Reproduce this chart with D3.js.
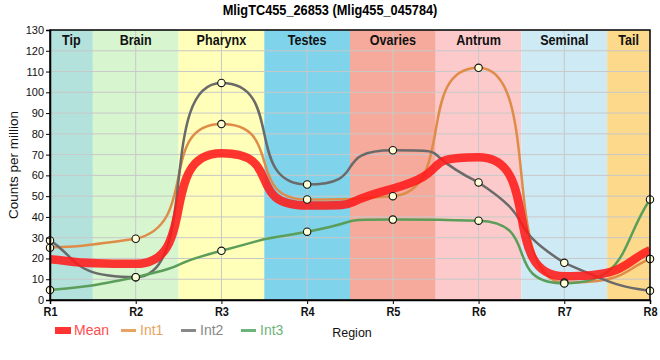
<!DOCTYPE html>
<html><head><meta charset="utf-8">
<script src="https://cdn.jsdelivr.net/npm/d3@7"></script>
<style>
body{margin:0;background:#fff;}
text{font-family:"Liberation Sans",Arial,sans-serif;}
</style></head>
<body><svg id="c" width="660" height="360"></svg>
<script>
const regions = ["R1","R2","R3","R4","R5","R6","R7","R8"];
const tissues = ["Tip","Brain","Pharynx","Testes","Ovaries","Antrum","Seminal","Tail"];
const tissueColors = ["#b3e2dd","#d7f5cf","#ffffb9","#7fd4ec","#f5aa9c","#fdcacb","#ceeaf5","#fdd98b"];
const meanVals = [19.6, 17.4, 70.6, 45.5, 53.6, 68.7, 11.4, 24.0];
const int1Vals = [25.2, 29.5, 84.7, 48.4, 50, 111.8, 8.4, 19.8];
const int2Vals = [28.7, 11, 104.5, 55.6, 72.1, 56.6, 17.9, 4.4];
const int3Vals = [4.8, 11, 23.7, 32.9, 38.7, 38.2, 8.0, 48.4];
const yTicks = d3.range(0, 131, 10);

const svg = d3.select("#c");
const m = {l:50, r:10, t:30, b:60};
const W = 660, H = 360;
const x = d3.scalePoint().domain(regions).range([m.l, W - m.r]);
const y = d3.scaleLinear().domain([0,130]).range([H - m.b, m.t]);
const step = x.step();
const NARROW = 0.84;

// smooth curve through the points: monotone tangents, long handles inside, short at the ends
function curveSmoothSteep(context){
  const K = 0.75, KE = 1/3;
  let xs, ys;
  return {
    areaStart(){}, areaEnd(){},
    lineStart(){ xs=[]; ys=[]; },
    point(px,py){ xs.push(+px); ys.push(+py); },
    lineEnd(){
      const n = xs.length; if(!n) return;
      const s = [], t = new Array(n);
      for(let i=0;i<n-1;i++) s.push((ys[i+1]-ys[i])/(xs[i+1]-xs[i]));
      for(let i=1;i<n-1;i++){
        const s0=s[i-1], s1=s[i], h0=xs[i]-xs[i-1], h1=xs[i+1]-xs[i];
        const p=(s0*h1+s1*h0)/(h0+h1);
        t[i]=(Math.sign(s0)+Math.sign(s1))*Math.min(Math.abs(s0),Math.abs(s1),0.5*Math.abs(p))||0;
      }
      t[0]=(3*s[0]-t[1])/2; t[n-1]=(3*s[n-2]-t[n-2])/2;
      context.moveTo(xs[0],ys[0]);
      for(let i=0;i<n-1;i++){
        const h=xs[i+1]-xs[i], lo=Math.min(ys[i],ys[i+1]), hi=Math.max(ys[i],ys[i+1]);
        const k1 = i===0 ? KE : K, k2 = i===n-2 ? KE : K;
        const c1y=Math.max(lo,Math.min(hi,ys[i]+k1*h*t[i]));
        const c2y=Math.max(lo,Math.min(hi,ys[i+1]-k2*h*t[i+1]));
        context.bezierCurveTo(xs[i]+k1*h,c1y,xs[i+1]-k2*h,c2y,xs[i+1],ys[i+1]);
      }
    }
  };
}

svg.append("defs").append("clipPath").attr("id","clip")
  .append("rect").attr("x",m.l).attr("y",m.t).attr("width",W-m.l-m.r).attr("height",H-m.t-m.b);

const g = svg.append("g").attr("clip-path","url(#clip)");
g.selectAll("rect.band").data(regions).enter().append("rect")
  .attr("x", d => x(d) - step/2).attr("width", step)
  .attr("y", m.t).attr("height", H-m.t-m.b)
  .attr("fill", (d,i) => tissueColors[i]);

g.selectAll("line.hg").data(yTicks).enter().append("line")
  .attr("x1", m.l).attr("x2", W-m.r).attr("y1", d=>y(d)).attr("y2", d=>y(d))
  .attr("stroke","#c8c8c8").attr("stroke-width",1);
g.selectAll("line.vg").data(regions).enter().append("line")
  .attr("x1", d=>x(d)).attr("x2", d=>x(d)).attr("y1", m.t).attr("y2", H-m.b)
  .attr("stroke","#c8c8c8").attr("stroke-width",1);

svg.selectAll("g.tl").data(tissues).enter().append("g")
  .attr("transform", (d,i) => {
    const a = Math.max(m.l, x(regions[i]) - step/2), b = Math.min(W-m.r, x(regions[i]) + step/2);
    return `translate(${(a+b)/2},45)`;
  })
  .append("text").attr("transform",`scale(${NARROW},1)`)
  .attr("text-anchor","middle").attr("font-weight","bold")
  .attr("font-size", 15).attr("fill","#111").text(d=>d);

const line = d3.line().x((d,i)=>x(regions[i])).y(d=>y(d)).curve(curveSmoothSteep);
const series = [
  {name:"Int1", vals:int1Vals, color:"#de8c48", text:"#e8a264"},
  {name:"Int2", vals:int2Vals, color:"#6a6a6a", text:"#888888"},
  {name:"Int3", vals:int3Vals, color:"#5a9e5a", text:"#6fb37a"}
];
series.forEach(s => {
  g.append("path").datum(s.vals).attr("d", line).attr("fill","none")
    .attr("stroke", s.color).attr("stroke-width", 2.5);
});
g.append("path").datum(meanVals).attr("d", line).attr("fill","none")
  .attr("stroke","#ff1a1a").attr("stroke-opacity",0.88).attr("stroke-width",8.5);

series.forEach(s => {
  svg.selectAll(null).data(s.vals).enter().append("circle")
    .attr("cx",(d,i)=>x(regions[i])).attr("cy",d=>y(d)).attr("r",3.7)
    .attr("fill","#ffffd8").attr("stroke","#111").attr("stroke-width",1.1);
});

svg.append("rect").attr("x",m.l).attr("y",m.t).attr("width",W-m.l-m.r).attr("height",H-m.t-m.b)
  .attr("fill","none").attr("stroke","#000").attr("stroke-width",1.5);

const ya = svg.append("g").attr("transform",`translate(${m.l},0)`)
  .call(d3.axisLeft(y).tickValues(yTicks).tickSize(4).tickPadding(2));
ya.select(".domain").attr("stroke","#000").attr("stroke-width",1.5);
ya.selectAll("text").attr("font-size",11).attr("fill","#111");
const xa = svg.append("g").attr("transform",`translate(0,${H-m.b})`)
  .call(d3.axisBottom(x).tickSize(4).tickPadding(3));
xa.select(".domain").attr("stroke","#000").attr("stroke-width",1.5);
xa.selectAll("text").attr("font-size",13).attr("font-weight","bold").attr("fill","#111")
  .attr("transform",`scale(${NARROW},1)`);

svg.append("g").attr("transform","translate(330,15)").append("text")
  .attr("transform",`scale(0.88,1)`).attr("text-anchor","middle")
  .attr("font-weight","bold").attr("font-size",14.5).text("MligTC455_26853 (Mlig455_045784)");
svg.append("text").attr("transform",`translate(18,${(m.t+H-m.b)/2}) rotate(-90)`)
  .attr("text-anchor","middle").attr("font-size",13.5).attr("fill","#111").text("Counts per million");
svg.append("text").attr("x",352).attr("y",337).attr("text-anchor","middle")
  .attr("font-size",12.5).attr("fill","#111").text("Region");

const lg = svg.append("g");
lg.append("rect").attr("x",55).attr("y",327).attr("width",16).attr("height",7).attr("fill","#ff3333");
lg.append("text").attr("x",74).attr("y",335).attr("font-size",14).attr("fill","#ff4d4d").text("Mean");
const lx = [121, 181, 241];
series.forEach((s,i) => {
  lg.append("line").attr("x1",lx[i]).attr("x2",lx[i]+15).attr("y1",330.5).attr("y2",330.5)
    .attr("stroke",s.text).attr("stroke-width",3);
  lg.append("text").attr("x",lx[i]+19).attr("y",335).attr("font-size",14).attr("fill",s.text).text(s.name);
});
</script></body></html>
